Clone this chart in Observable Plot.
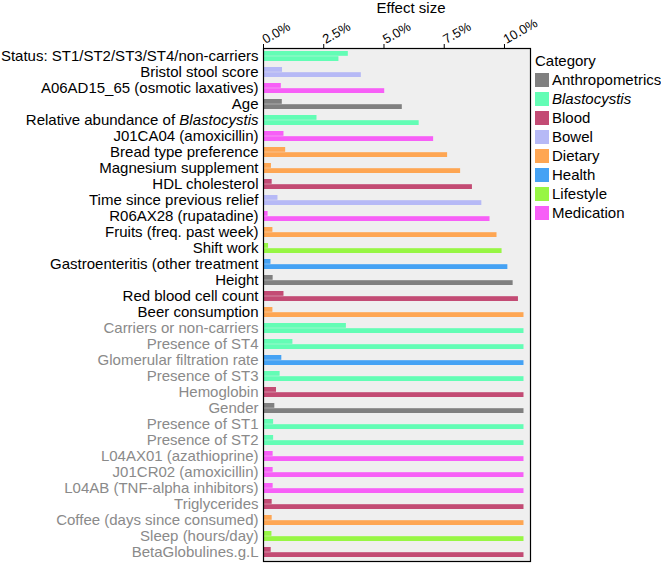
<!DOCTYPE html>
<html><head><meta charset="utf-8">
<script src="https://cdn.jsdelivr.net/npm/d3@7"></script>
<script src="https://cdn.jsdelivr.net/npm/@observablehq/plot@0.6"></script>
<style>
body{margin:0;background:#fff;font-family:"Liberation Sans",Arial,sans-serif;}
#wrap{position:relative;width:661px;height:563px;}
#legend{position:absolute;left:535px;top:51px;font-size:15px;line-height:19px;color:#000;}
.item{display:flex;align-items:center;height:19px;}
.sw{width:14px;height:14px;margin-right:3px;flex:none;}
</style></head><body>
<div id="wrap"><div id="chart"></div><div id="legend"></div></div>
<script>
const labels = [
  "Status: ST1/ST2/ST3/ST4/non-carriers","Bristol stool score","A06AD15_65 (osmotic laxatives)","Age",
  "Relative abundance of Blastocystis","J01CA04 (amoxicillin)","Bread type preference","Magnesium supplement",
  "HDL cholesterol","Time since previous relief","R06AX28 (rupatadine)","Fruits (freq. past week)",
  "Shift work","Gastroenteritis (other treatment","Height","Red blood cell count","Beer consumption",
  "Carriers or non-carriers","Presence of ST4","Glomerular filtration rate","Presence of ST3","Hemoglobin",
  "Gender","Presence of ST1","Presence of ST2","L04AX01 (azathioprine)","J01CR02 (amoxicillin)",
  "L04AB (TNF-alpha inhibitors)","Triglycerides","Coffee (days since consumed)","Sleep (hours/day)","BetaGlobulines.g.L"
];
const categories = [
  "Blastocystis","Bowel","Medication","Anthropometrics","Blastocystis","Medication","Dietary","Dietary",
  "Blood","Bowel","Medication","Dietary","Lifestyle","Health","Anthropometrics","Blood","Dietary",
  "Blastocystis","Blastocystis","Health","Blastocystis","Blood","Anthropometrics","Blastocystis","Blastocystis",
  "Medication","Medication","Medication","Blood","Dietary","Lifestyle","Blood"
];
// individual effect size (upper bar), %
const individual = [
  3.52,0.79,0.74,0.78,2.22,0.85,0.92,0.33,
  0.36,0.60,0.19,0.39,0.21,0.31,0.40,0.85,0.39,
  3.44,1.22,0.76,0.69,0.54,0.47,0.42,0.42,
  0.40,0.40,0.40,0.36,0.36,0.35,0.32
];
// cumulative effect size (lower bar), %
const cumulative = [
  3.13,4.06,5.03,5.76,6.46,7.06,7.64,8.18,
  8.67,9.06,9.40,9.69,9.90,10.14,10.36,10.58,10.81,
  10.81,10.81,10.81,10.81,10.81,10.81,10.81,10.81,
  10.81,10.81,10.81,10.81,10.81,10.81,10.81
];
const significantLabels = labels.slice(0, 17);
const otherLabels = labels.slice(17);
const categoryNames = ["Anthropometrics","Blastocystis","Blood","Bowel","Dietary","Health","Lifestyle","Medication"];
const categoryColors = ["#808080","#63fdb5","#c34b74","#b6b9f6","#fea653","#45a2f4","#97f644","#f75ff7"];
const xTicks = [0, 2.5, 5, 7.5, 10];
const xTitle = ["Effect size"];

const rows = labels.map((l, i) => ({label: l, category: categories[i], individual: individual[i], cumulative: cumulative[i]}));

const chart = Plot.plot({
  width: 661, height: 563,
  marginLeft: 263, marginRight: 131, marginTop: 48, marginBottom: 2,
  style: {fontFamily: "'Liberation Sans', Arial, sans-serif", fontSize: "15px", background: "white", color: "black"},
  x: {domain: [0, 11.08]},
  y: {domain: labels, paddingInner: 0.35, paddingOuter: 0.2},
  color: {domain: categoryNames, range: categoryColors},
  marks: [
    Plot.frame({fill: "#efefef"}),
    Plot.barX(rows, {x: "individual", y: "label", fill: "category", insetBottom: 5.2}),
    Plot.barX(rows, {x: "cumulative", y: "label", fill: "category", insetTop: 5.2}),
    Plot.axisX({anchor: "top", ticks: xTicks, tickFormat: d => d.toFixed(1) + "%", tickRotate: -30, tickSize: 5, tickPadding: 3, fontSize: 13, label: null}),
    Plot.text(xTitle, {text: d => d, frameAnchor: "top", lineAnchor: "middle", dy: -40.5, dx: 14, fontSize: 15, fill: "black"}),
    Plot.axisY(significantLabels, {tickSize: 0, tickPadding: 5, fill: "black", label: null, fontSize: 15}),
    Plot.axisY(otherLabels, {tickSize: 0, tickPadding: 5, fill: "#8a8a8a", label: null, fontSize: 15}),
    Plot.frame({stroke: "black", strokeWidth: 1.2})
  ]
});
document.getElementById("chart").appendChild(chart);

// italic genus name
chart.querySelectorAll("text").forEach(t => {
  if (t.textContent === "Relative abundance of Blastocystis") {
    t.textContent = "Relative abundance of ";
    const ts = document.createElementNS("http://www.w3.org/2000/svg", "tspan");
    ts.setAttribute("font-style", "italic");
    ts.textContent = "Blastocystis";
    t.appendChild(ts);
  }
});

// legend
const lg = document.getElementById("legend");
const title = document.createElement("div");
title.textContent = "Category";
lg.appendChild(title);
categoryNames.forEach((c, i) => {
  const it = document.createElement("div");
  it.className = "item";
  const sw = document.createElement("span");
  sw.className = "sw";
  sw.style.background = categoryColors[i];
  const tx = document.createElement("span");
  tx.textContent = c;
  if (c === "Blastocystis") tx.style.fontStyle = "italic";
  it.appendChild(sw); it.appendChild(tx);
  lg.appendChild(it);
});
</script>
</body></html>
